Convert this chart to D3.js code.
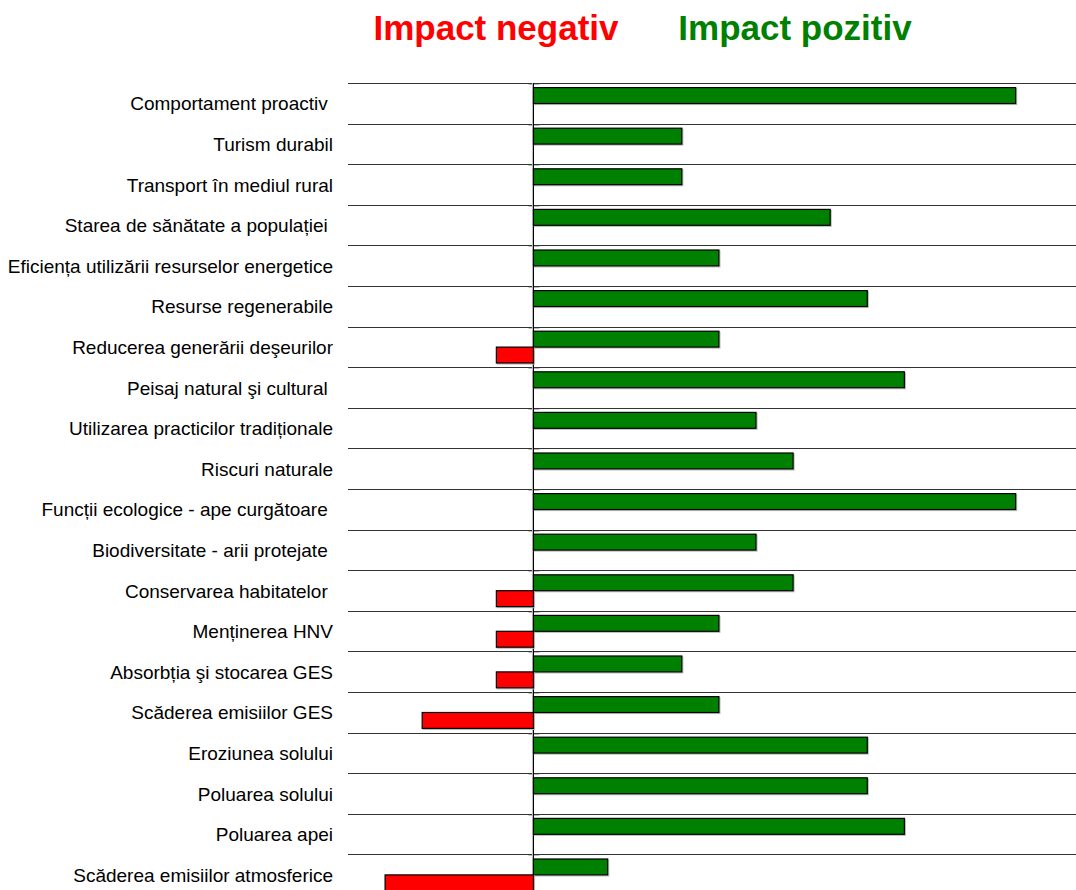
<!DOCTYPE html>
<html>
<head>
<meta charset="utf-8">
<script src="https://cdn.jsdelivr.net/npm/d3@7"></script>
<style>
  html, body { margin: 0; padding: 0; background: #fff; }
  svg { display: block; }
  text { font-family: "Liberation Sans", Arial, sans-serif; white-space: pre; }
</style>
</head>
<body>
<svg id="chart" width="1076" height="890"></svg>
<script>
// Indicators, top to bottom
const categories = [
  "Comportament proactiv ",
  "Turism durabil",
  "Transport în mediul rural",
  "Starea de sănătate a populației ",
  "Eficiența utilizării resurselor energetice",
  "Resurse regenerabile",
  "Reducerea generării deşeurilor",
  "Peisaj natural şi cultural ",
  "Utilizarea practicilor tradiționale",
  "Riscuri naturale",
  "Funcții ecologice - ape curgătoare ",
  "Biodiversitate - arii protejate ",
  "Conservarea habitatelor ",
  "Menținerea HNV",
  "Absorbția şi stocarea GES",
  "Scăderea emisiilor GES",
  "Eroziunea solului",
  "Poluarea solului",
  "Poluarea apei",
  "Scăderea emisiilor atmosferice"
];
// Positive impact scores
const positive = [13, 4, 4, 8, 5, 9, 5, 10, 6, 7, 13, 6, 7, 5, 4, 5, 9, 9, 10, 2];
// Negative impact scores
const negative = [0, 0, 0, 0, 0, 0, -1, 0, 0, 0, 0, 0, -1, -1, -1, -3, 0, 0, 0, -4];

const titles = [
  { text: "Impact negativ", color: "#ff0000" },
  { text: "Impact pozitiv", color: "#008000" }
];

const svg = d3.select("#chart");

const x = d3.scaleLinear().domain([-5, 14.6]).range([348, 1075]);
const rowH = 40.6;
const y = d3.scaleBand().domain(categories).range([83, 83 + categories.length * rowH]).padding(0);
const sub = d3.scaleBand().domain(["pos", "neg"]).range([4.6, 36.4]).padding(0);

// Titles
svg.append("text").attr("x", 496).attr("y", 40).attr("text-anchor", "middle")
  .attr("font-size", 35).attr("font-weight", "bold").attr("fill", titles[0].color).text(titles[0].text);
svg.append("text").attr("x", 795).attr("y", 40).attr("text-anchor", "middle")
  .attr("font-size", 35).attr("font-weight", "bold").attr("fill", titles[1].color).text(titles[1].text);

// Row separators
svg.append("g").selectAll("line").data(categories).join("line")
  .attr("x1", 348).attr("x2", 1076)
  .attr("y1", d => Math.round(y(d)) + 0.5).attr("y2", d => Math.round(y(d)) + 0.5)
  .attr("stroke", "#333").attr("stroke-width", 1.2);

// Small marks where the rows cross the zero line
svg.append("g").selectAll("line").data(categories).join("line")
  .attr("x1", x(0) - 5).attr("x2", x(0) + 6)
  .attr("y1", d => Math.round(y(d)) + 1.5).attr("y2", d => Math.round(y(d)) + 1.5)
  .attr("stroke", "#bbb").attr("stroke-width", 1);

// Zero line with soft shadow
svg.append("line").attr("x1", x(0) - 1).attr("x2", x(0) - 1)
  .attr("y1", 83).attr("y2", 890).attr("stroke", "#bbb").attr("stroke-width", 1);
svg.append("line").attr("x1", Math.round(x(0)) + 0.5).attr("x2", Math.round(x(0)) + 0.5)
  .attr("y1", 83).attr("y2", 890).attr("stroke", "#000").attr("stroke-width", 1);

// Category labels
svg.append("g").selectAll("text").data(categories).join("text")
  .attr("x", 333).attr("y", d => y(d) + y.bandwidth() / 2 + 7)
  .attr("text-anchor", "end").attr("font-size", 19).attr("fill", "#000")
  .text(d => d);

function drawBars(values, key, fill) {
  const data = values.map((v, i) => ({ c: categories[i], v })).filter(d => d.v !== 0);
  const g = svg.append("g");
  // shadow
  g.selectAll("rect.sh").data(data).join("rect").attr("class", "sh")
    .attr("x", d => x(Math.min(0, d.v)) + 1)
    .attr("y", d => y(d.c) + sub(key) + 1)
    .attr("width", d => Math.abs(x(d.v) - x(0)))
    .attr("height", sub.bandwidth())
    .attr("fill", "none").attr("stroke", "#bbb").attr("stroke-width", 1.2);
  g.selectAll("rect.bar").data(data).join("rect").attr("class", "bar")
    .attr("x", d => x(Math.min(0, d.v)))
    .attr("y", d => y(d.c) + sub(key))
    .attr("width", d => Math.abs(x(d.v) - x(0)))
    .attr("height", sub.bandwidth())
    .attr("fill", fill).attr("stroke", "#000").attr("stroke-width", 1.2);
}

drawBars(positive, "pos", "#008000");
drawBars(negative, "neg", "#ff0000");
</script>
</body>
</html>
